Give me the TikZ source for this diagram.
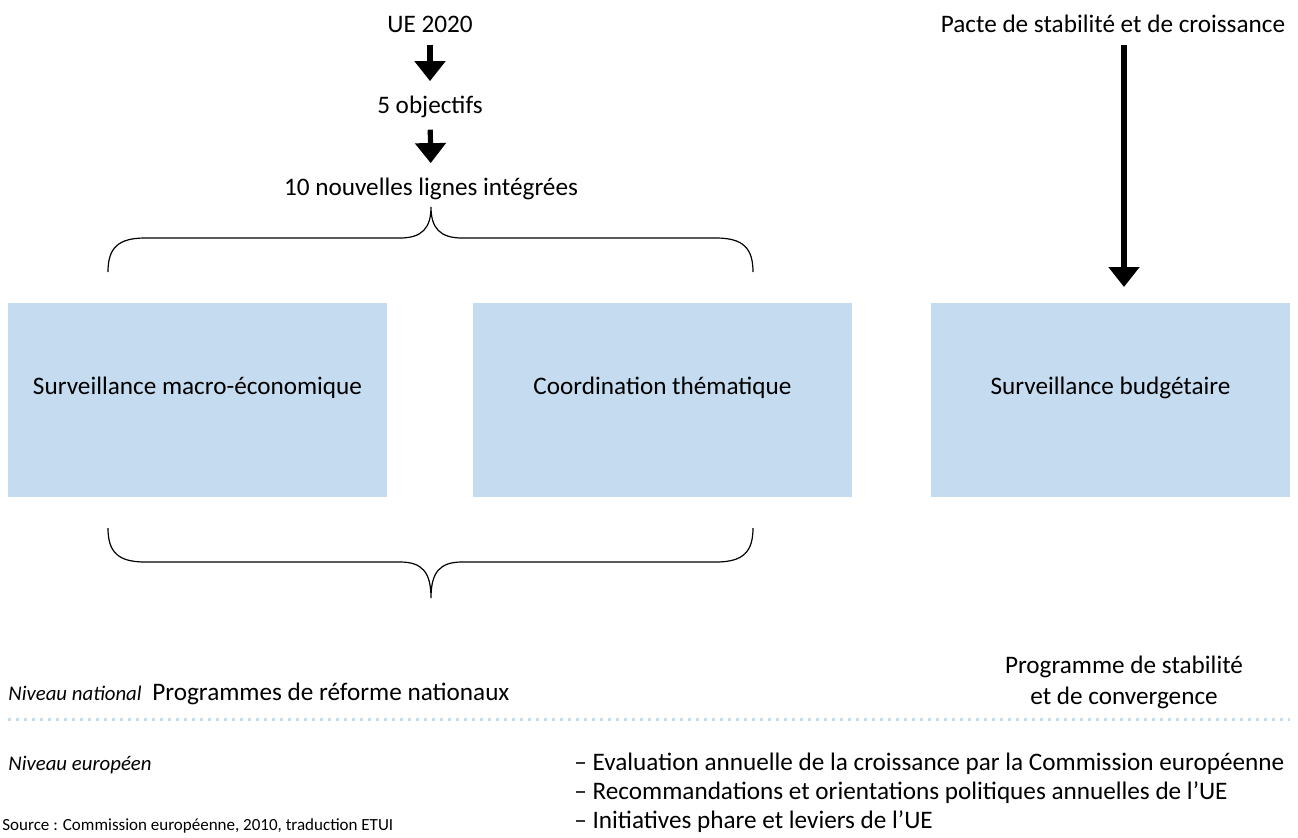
\documentclass[tikz,border=0pt]{standalone}
\usepackage{fontspec}
\setmainfont{Carlito}
\usetikzlibrary{arrows.meta}

\definecolor{boxblue}{RGB}{197,220,240}
\definecolor{dotblue}{RGB}{195,220,240}

\begin{document}
\begin{tikzpicture}[
x=0.5pt, y=-0.5pt,
font=\fontsize{12.6}{15}\selectfont,
txt/.style={
    inner sep=0pt,
    anchor=base
    },
lvl/.style={
    inner sep=0pt,
    anchor=base west,
    font=\fontsize{10.4}{13}\selectfont\itshape
    },
bigarrow/.style={
    line width=2.6pt,
    -{Triangle[width=15pt,length=10pt]}
    },
bluebox/.style={
    fill=boxblue,
    inner sep=0pt,
    minimum height=97pt
    },
brace/.style={
    line width=0.6pt
    },
]
\useasboundingbox (0,0) rectangle (1298,837);
\clip (0,0) rectangle (1298,837);

% chaine UE 2020
\node[txt] (ue) at (430,32) {UE 2020};
\node[txt] (obj) at (430,113) {5 objectifs};
\node[txt] (lignes) at (431,195) {10 nouvelles lignes intégrées};
\draw[bigarrow, shorten <=6pt, shorten >=7pt] (ue) -- (obj);
\draw[bigarrow, shorten <=6pt, shorten >=7pt] (obj) -- (lignes);

% pacte
\node[txt] (pacte) at (1113,32) {Pacte de stabilité et de croissance};
\coordinate (pacteend) at (1124,287);
\draw[bigarrow, shorten <=6pt] (pacte.south -| pacteend) -- (pacteend);

% accolades
\draw[brace] (108,272) .. controls (108,248) and (118,238) .. (145,238) -- (400,238)
    .. controls (422,238) and (431,228) .. (431,207)
    .. controls (431,228) and (440,238) .. (462,238) -- (716,238)
    .. controls (743,238) and (753,248) .. (753,272);
\draw[brace] (108,528) .. controls (108,552) and (118,562) .. (145,562) -- (400,562)
    .. controls (422,562) and (431,572) .. (431,598)
    .. controls (431,572) and (440,562) .. (462,562) -- (716,562)
    .. controls (743,562) and (753,552) .. (753,528);

% blocs
\node[bluebox, minimum width=189.5pt] (surmacro) at (197.5,400) {};
\node[bluebox, minimum width=189.5pt] (coord) at (662.5,400) {};
\node[bluebox, minimum width=179.5pt] (surbudg) at (1110.5,400) {};
\node[txt, anchor=center] (surmacrotxt) at ([yshift=6pt]surmacro.center) {Surveillance macro-économique};
\node[txt, anchor=center] (coordtxt) at ([yshift=6pt]coord.center) {Coordination thématique};
\node[txt, anchor=center] (surbudgtxt) at ([yshift=6pt]surbudg.center) {Surveillance budgétaire};

% niveau national
\node[lvl] (natlabel) at (8,700) {Niveau national};
\node[txt, anchor=base west] (prognat) at (152,700) {Programmes de réforme nationaux};
\node[txt] (progstab) at (1124,673) {Programme de stabilité};
\node[txt] (progconv) at (1124,704) {et de convergence};

\draw[dotblue, line width=1.5pt, dash pattern=on 1.5pt off 2.5pt] (8,719) -- (1290,719);

% niveau europeen
\node[lvl] (eurlabel) at (8,770) {Niveau européen};
\node[txt, anchor=base west] (item1) at (574,770) {– Evaluation annuelle de la croissance par la Commission européenne};
\node[txt, anchor=base west] (item2) at (574,799) {– Recommandations et orientations politiques annuelles de l’UE};
\node[txt, anchor=base west] (item3) at (574,828) {– Initiatives phare et leviers de l’UE};

\node[txt, anchor=base west, font=\fontsize{8.5}{10}\selectfont] (source) at (2,830) {Source : Commission européenne, 2010, traduction ETUI};
\end{tikzpicture}
\end{document}
